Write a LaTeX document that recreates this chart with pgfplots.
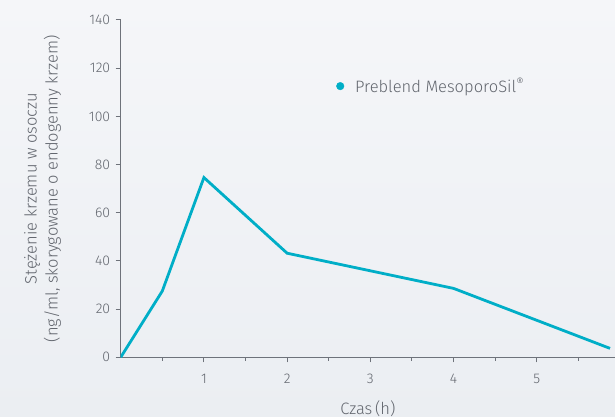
\documentclass[border=0pt]{standalone}
\usepackage{fontspec}
\setmainfont{Fira Sans Light}
\usepackage{pgfplots}
\pgfplotsset{compat=1.18}

\definecolor{linecol}{HTML}{00AEC7}
\definecolor{axcol}{HTML}{6E727A}
\definecolor{txtcol}{HTML}{62666E}
\definecolor{bgtop}{HTML}{F5F6F9}
\definecolor{bgbot}{HTML}{EBEEF2}

\begin{document}
\begin{tikzpicture}[x=1pt,y=1pt]
  % tlo strony
  \shade[top color=bgtop, bottom color=bgbot] (0,0) rectangle (615,417);
  \path[use as bounding box] (0,0) rectangle (615,417);
  \begin{axis}[
    at={(120.7pt,59.7pt)}, anchor=south west,
    scale only axis, width=494.3pt, height=337.3pt,
    xmin=0, xmax=5.94, ymin=0, ymax=140,
    axis lines=left,
    axis line style={-, draw=axcol, line width=1.3pt},
    xtick={1,2,3,4,5},
    minor xtick={0.5,1.5,2.5,3.5,4.5,5.5},
    ytick={0,20,...,140},
    tick align=outside,
    major tick length=5pt, minor tick length=3.5pt,
    every tick/.style={draw=axcol, line width=1pt},
    tick label style={text=txtcol, font=\fontsize{14}{16}\selectfont},
    xticklabel style={yshift=-8pt},
    yticklabel style={xshift=-2pt},
    /pgf/number format/assume math mode=true,
    xlabel={Czas\,(h)},
    ylabel={Stężenie krzemu w osoczu\\(ng/ml, skorygowane o endogenny krzem)},
    label style={text=txtcol, font=\fontsize{16.5}{21}\selectfont},
    xlabel style={at={(axis description cs:0.5,-0.151)}, anchor=center},
    ylabel style={at={(axis description cs:-0.158,0.5)}, anchor=center, align=center},
    legend style={at={(0.43,0.804)}, anchor=west, draw=none, fill=none,
      font=\fontsize{16.5}{18}\selectfont, text=txtcol},
    legend cell align=left,
  ]
    \addlegendimage{only marks, mark=*, mark size=3.8pt, linecol}
    \addlegendentry{\hspace{9pt}Preblend MesoporoSil\textsuperscript{®}}
    % stezenie (ng/ml) w czasie (h)
    \addplot[linecol, line width=2.8pt, line join=miter, forget plot] coordinates {
      (0,0) (0.5,27.5) (1,74.6) (2,43.2) (4,28.6) (5.88,3.7)
    };
  \end{axis}
\end{tikzpicture}
\end{document}
